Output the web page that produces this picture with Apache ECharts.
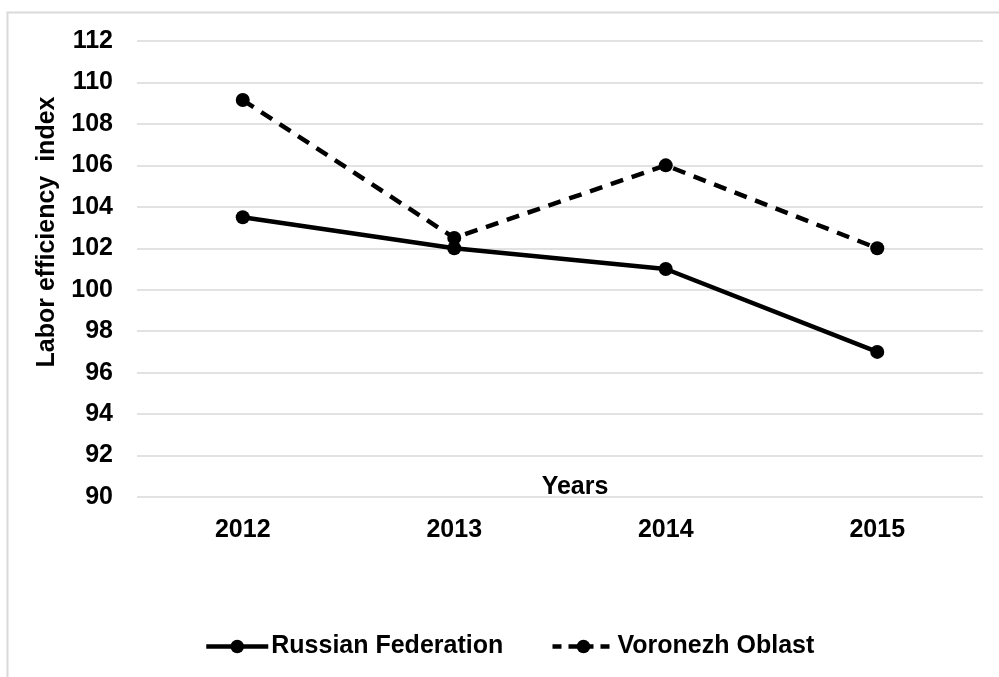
<!DOCTYPE html>
<html>
<head>
<meta charset="utf-8">
<script src="https://cdn.jsdelivr.net/npm/echarts@6/dist/echarts.min.js"></script>
<style>
  html, body { margin: 0; padding: 0; background: #fff; }
  #chart { width: 999px; height: 677px; }
</style>
</head>
<body>
<div id="chart"></div>
<script>
const years = ['2012', '2013', '2014', '2015']
const russianFederation = [103.5, 102, 101, 97]
const voronezhOblast = [109.15, 102.5, 106, 102]

const font = '"Liberation Sans", Arial, sans-serif'

const chart = echarts.init(document.getElementById('chart'))
chart.setOption({
  animation: false,
  graphic: [
    {
      type: 'rect',
      shape: { x: 7.5, y: 12.5, width: 1200, height: 900 },
      style: { fill: 'none', stroke: '#d9d9d9', lineWidth: 2 },
      silent: true
    },
    {
      type: 'text',
      x: 47, y: 232,
      rotation: Math.PI / 2,
      style: {
        text: 'Labor efficiency  index',
        font: 'bold 25px ' + font,
        fill: '#000',
        align: 'center',
        verticalAlign: 'middle'
      }
    },
    {
      type: 'text',
      x: 575, y: 487,
      style: {
        text: 'Years',
        font: 'bold 25px ' + font,
        fill: '#000',
        align: 'center',
        verticalAlign: 'middle'
      }
    }
  ],
  grid: { left: 137, right: 16, top: 41, bottom: 180, containLabel: false },
  legend: {
    left: 199,
    top: 629,
    itemWidth: 62,
    itemHeight: 17,
    itemGap: 47,
    lineStyle: { width: 4.5 },
    textStyle: { fontFamily: font, fontWeight: 'bold', fontSize: 25, color: '#000', padding: [0, 0, 0, -2] },
    data: [
      { name: 'Russian Federation' },
      { name: 'Voronezh Oblast', lineStyle: { type: [9, 7] } }
    ]
  },
  xAxis: {
    type: 'category',
    data: years,
    boundaryGap: true,
    axisLine: { show: false },
    axisTick: { show: false },
    axisLabel: { margin: 21, fontFamily: font, fontWeight: 'bold', fontSize: 25, color: '#000' }
  },
  yAxis: {
    type: 'value',
    min: 90,
    max: 112,
    interval: 2,
    axisLine: { show: false },
    axisTick: { show: false },
    splitLine: { lineStyle: { color: '#d9d9d9', width: 1.5 } },
    axisLabel: { margin: 24, fontFamily: font, fontWeight: 'bold', fontSize: 25, color: '#000' }
  },
  series: [
    {
      name: 'Russian Federation',
      type: 'line',
      data: russianFederation,
      symbol: 'circle',
      symbolSize: 14,
      itemStyle: { color: '#000' },
      lineStyle: { color: '#000', width: 4.5 }
    },
    {
      name: 'Voronezh Oblast',
      type: 'line',
      data: voronezhOblast,
      symbol: 'circle',
      symbolSize: 14,
      itemStyle: { color: '#000' },
      lineStyle: { color: '#000', width: 4.5, type: [13, 9] }
    }
  ]
})
</script>
</body>
</html>
